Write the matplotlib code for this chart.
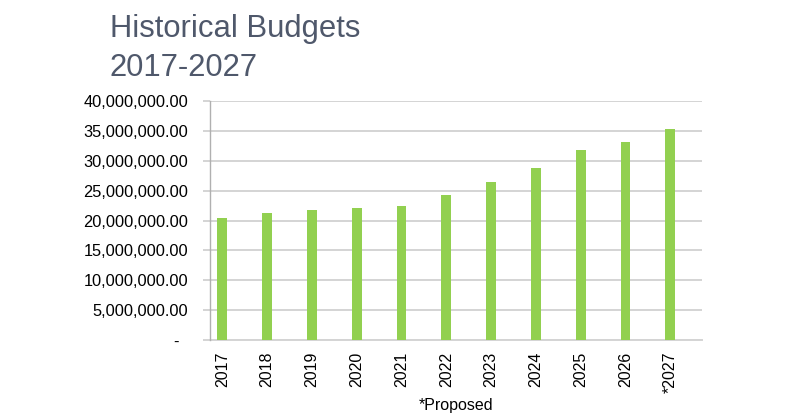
import matplotlib
matplotlib.use("Agg")
import matplotlib.pyplot as plt
from matplotlib.ticker import FuncFormatter

plt.rcParams['font.family'] = ['Liberation Sans', 'DejaVu Sans']

years = ["2017", "2018", "2019", "2020", "2021", "2022", "2023", "2024", "2025", "2026", "*2027"]
budgets = [20.5e6, 21.2e6, 21.7e6, 22.1e6, 22.5e6, 24.3e6, 26.4e6, 28.8e6, 31.85e6, 33.1e6, 35.3e6]
yticks = [0, 5e6, 10e6, 15e6, 20e6, 25e6, 30e6, 35e6, 40e6]

fig = plt.figure(figsize=(8.01, 4.20), dpi=100)
ax = fig.add_axes([0.2622, 0.1905, 0.6142, 0.569])

x = list(range(len(years)))
ax.bar(x, budgets, width=0.22, color="#92d050", zorder=3)

ax.set_ylim(0, 40e6)
ax.set_xlim(-0.275, len(years) - 1 + 0.708)
ax.set_yticks(yticks)
ax.yaxis.set_major_formatter(FuncFormatter(lambda v, p: "-  " if v == 0 else f"{v:,.2f}"))
ax.grid(axis="y", color="#d4d4d4", linewidth=1.4, zorder=0)
ax.set_xticks(x)
ax.set_xticklabels(years, rotation=90)

for s in ["top", "right", "bottom"]:
    ax.spines[s].set_visible(False)
ax.spines["left"].set_color("#b0b0b0")
ax.spines["left"].set_linewidth(1.0)
ax.axhline(0, color="#d4d4d4", linewidth=1.4, zorder=1, clip_on=False)

ax.tick_params(axis="y", length=5, color="#d4d4d4", width=1.4, labelsize=11.8, pad=10.5, labelcolor="#000000")
ax.tick_params(axis="x", length=0, labelsize=11.5, pad=8.5)

fig.text(0.137, 0.912, "Historical Budgets", fontsize=22.3, color="#4f586b", va="baseline", ha="left")
fig.text(0.137, 0.819, "2017-2027", fontsize=22.3, color="#4f586b", va="baseline", ha="left")

fig.text(0.569, 0.024, "*Proposed", fontsize=11.5, ha="center", va="baseline", color="#000000")

fig.savefig("out.png", dpi=100)
